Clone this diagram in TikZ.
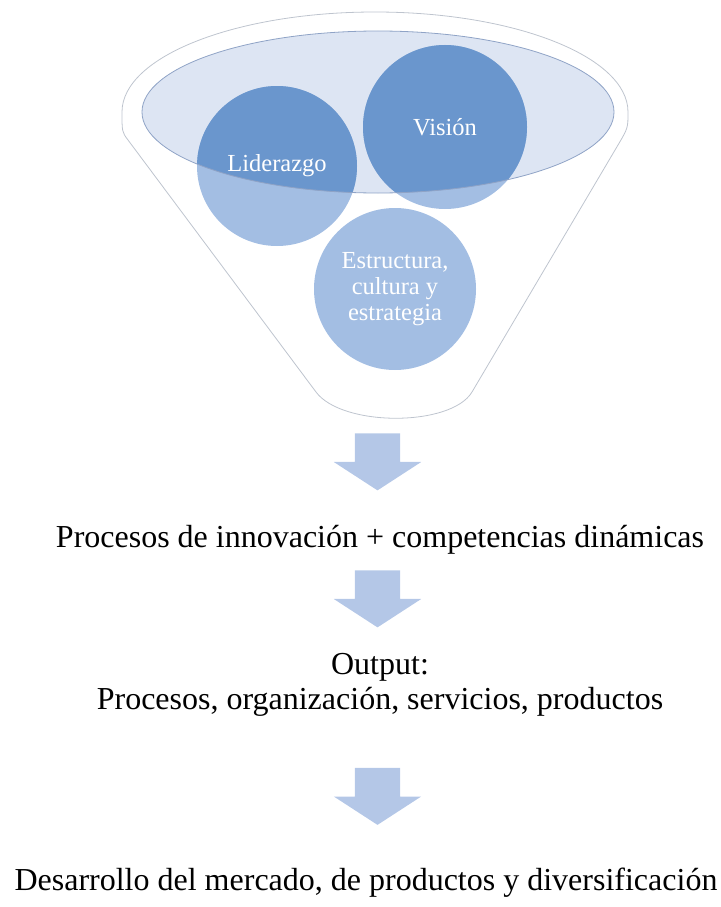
\documentclass[tikz,border=0pt]{standalone}
\usepackage{fontspec}
\setmainfont{Liberation Serif}
\usetikzlibrary{shapes.arrows,backgrounds}

\definecolor{circlelight}{HTML}{A3BEE3}
\definecolor{circledark}{HTML}{6A96CD}
\definecolor{ellipsefill}{HTML}{DDE5F3}
\definecolor{ellipseline}{HTML}{8FA3C6}
\definecolor{funnelline}{HTML}{BEC4CE}
\definecolor{arrowblue}{HTML}{B4C7E7}

\begin{document}
\begin{tikzpicture}[x=1pt,y=-1pt]
\tikzset{CircleStyle/.style = {circle,inner sep=0pt,text=white,align=center,
                               font=\fontsize{24.5}{26}\selectfont},
         ArrowStyle/.style = {single arrow,fill=arrowblue,rotate=-90,
                              minimum height=57pt,minimum width=87pt,
                              inner xsep=0pt,inner ysep=22.5pt,
                              single arrow head extend=21pt,
                              single arrow tip angle=114,
                              single arrow head indent=0pt},
         TextStyle/.style = {align=center,font=\fontsize{32}{35}\selectfont}}
\useasboundingbox (0,0) rectangle (720,907);
\node[CircleStyle,minimum size=160pt] (lid) at (277,166) {Liderazgo};
\node[CircleStyle,minimum size=164pt] (vis) at (445,127) {Visión};
\node[CircleStyle,minimum size=162pt] (est) at (395,289) {Estructura,\\cultura y\\estrategia};
\node[ArrowStyle] (a1) at (377.5,454.5) {};
\node[TextStyle,anchor=base] (inno) at (380,547) {Procesos de innovación + competencias dinámicas};
\node[ArrowStyle] (a2) at (377.5,591.5) {};
\node[TextStyle] (out) at (380,685) {Output:\\Procesos, organización, servicios, productos};
\node[ArrowStyle] (a3) at (377.5,789) {};
\node[TextStyle,anchor=base] (mer) at (366,890) {Desarrollo del mercado, de productos y diversificación};
\begin{pgfonlayer}{background}
\draw[funnelline,line width=0.8pt] (122,112) arc[start angle=180,end angle=360,x radius=253,y radius=100]
  .. controls (628,128) .. (618,145) -- (472,392)
  .. controls (451,427) and (342,427) .. (316,392) -- (128,140)
  .. controls (122,132) .. cycle;
\fill[ellipsefill] (378,112) ellipse[x radius=236,y radius=81];
\fill[circlelight] (lid) circle[radius=80] (vis) circle[radius=82] (est) circle[radius=81];
\begin{scope}
\clip (378,112) ellipse[x radius=236,y radius=81];
\fill[circledark] (lid) circle[radius=80] (vis) circle[radius=82];
\end{scope}
\draw[ellipseline,line width=0.8pt] (378,112) ellipse[x radius=236,y radius=81];
\end{pgfonlayer}
\end{tikzpicture}
\end{document}
